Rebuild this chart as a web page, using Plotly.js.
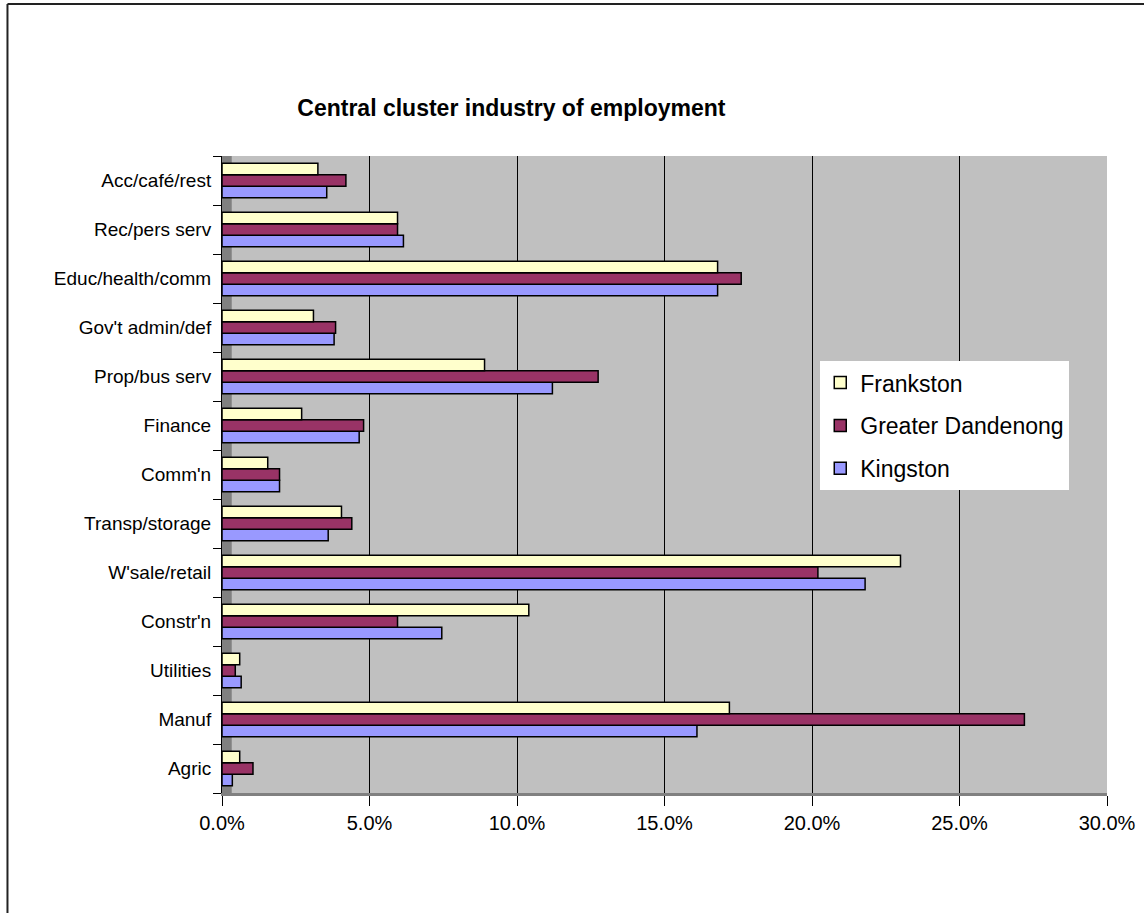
<!DOCTYPE html>
<html>
<head>
<meta charset="utf-8">
<script src="https://cdn.plot.ly/plotly-3.0.1.min.js"></script>
<style>html,body{margin:0;padding:0;background:#fff;}#chart{width:1144px;height:913px;}</style>
</head>
<body>
<div id="chart"></div>
<script>
// Categories listed bottom to top
var categories = ["Agric", "Manuf", "Utilities", "Constr'n", "W'sale/retail", "Transp/storage", "Comm'n", "Finance", "Prop/bus serv", "Gov't admin/def", "Educ/health/comm", "Rec/pers serv", "Acc/café/rest"];
var frankston = [0.6, 17.2, 0.6, 10.4, 23.0, 4.05, 1.55, 2.7, 8.9, 3.1, 16.8, 5.95, 3.25];
var greaterDandenong = [1.05, 27.2, 0.45, 5.95, 20.2, 4.4, 1.95, 4.8, 12.75, 3.85, 17.6, 5.95, 4.2];
var kingston = [0.35, 16.1, 0.65, 7.45, 21.8, 3.6, 1.95, 4.65, 11.2, 3.8, 16.8, 6.15, 3.55];
var xTicks = [0, 5, 10, 15, 20, 25, 30];
var xTickText = xTicks.map(function (v) { return v.toFixed(1) + '%'; });

var outline = {color: '#000000', width: 1.5};
var traces = [
  {type: 'bar', orientation: 'h', name: 'Kingston', y: categories, x: kingston,
   marker: {color: '#9999FF', line: outline}, legendgroup: 'k', legendrank: 3},
  {type: 'bar', orientation: 'h', name: 'Greater Dandenong', y: categories, x: greaterDandenong,
   marker: {color: '#993366', line: outline}, legendgroup: 'g', legendrank: 2},
  {type: 'bar', orientation: 'h', name: 'Frankston', y: categories, x: frankston,
   marker: {color: '#FFFFCC', line: outline}, legendgroup: 'f', legendrank: 1}
];

var layout = {
  width: 1144, height: 913,
  paper_bgcolor: '#ffffff',
  plot_bgcolor: '#C0C0C0',
  margin: {l: 222, r: 37, t: 156, b: 120},
  font: {family: 'Arial, "Liberation Sans", sans-serif', color: '#000000'},
  title: {text: 'Central cluster industry of employment', font: {size: 23, family: 'Arial, "Liberation Sans", sans-serif', weight: 'bold', color: '#000'},
          x: 0.447, xref: 'container', xanchor: 'center', y: 0.882, yref: 'container', yanchor: 'middle'},
  barmode: 'group', bargap: 0.3, bargroupgap: 0.0,
  showlegend: true,
  legend: {x: 0.676, y: 0.678, xanchor: 'left', yanchor: 'top', bgcolor: '#ffffff', borderwidth: 0,
           font: {size: 23}, traceorder: 'grouped', tracegroupgap: 10},
  xaxis: {range: [0, 30], tickvals: xTicks, ticktext: xTickText, tickfont: {size: 20},
          showgrid: true, gridcolor: '#000000', gridwidth: 1, zeroline: false,
          showline: true, linecolor: '#808080', linewidth: 3, ticks: 'outside', ticklen: 10, tickcolor: '#000',
          fixedrange: true},
  yaxis: {type: 'category', categoryorder: 'array', categoryarray: categories, range: [-0.5, 12.5],
          tickfont: {size: 19}, showgrid: false, zeroline: false, showline: true, linecolor: '#000', linewidth: 1,
          ticks: 'outside', tickson: 'boundaries', ticklen: 8, tickcolor: '#000', ticklabelstandoff: 6, fixedrange: true},
  shapes: [
    {type: 'rect', xref: 'paper', yref: 'paper', x0: 0, x1: 0.011, y0: 0, y1: 1, fillcolor: '#808080', line: {width: 0}, layer: 'below'},
    {type: 'line', xref: 'paper', yref: 'paper', x0: -0.2424, x1: -0.2424, y0: -0.2, y1: 1.2386, line: {color: '#222', width: 2}},
    {type: 'line', xref: 'paper', yref: 'paper', x0: -0.2424, x1: 1.05, y0: 1.2386, y1: 1.2386, line: {color: '#222', width: 2}}
  ]
};

Plotly.newPlot('chart', traces, layout, {displayModeBar: false, staticPlot: true});
</script>
</body>
</html>
